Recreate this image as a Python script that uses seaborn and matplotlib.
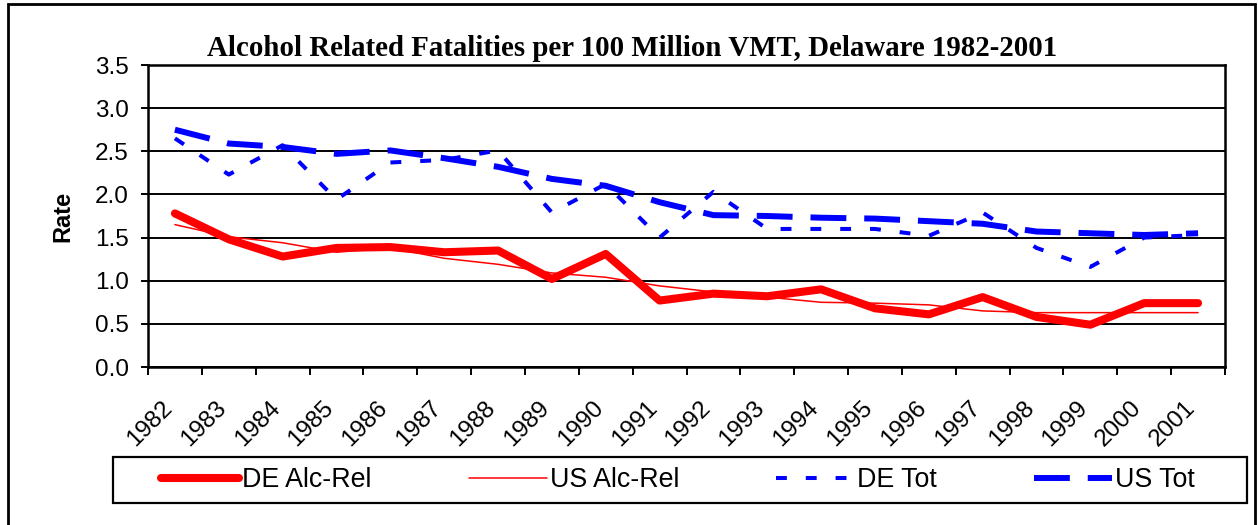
import matplotlib
matplotlib.use("Agg")
import numpy as np
import seaborn as sns
import matplotlib.pyplot as plt
import matplotlib.transforms as mtransforms
from matplotlib.patches import Rectangle
from matplotlib.ticker import FormatStrFormatter

# ── Data ──────────────────────────────────────────────────────────────────────
years  = list(range(1982, 2002))
de_alc = [1.78, 1.48, 1.28, 1.38, 1.39, 1.33, 1.35, 1.02, 1.31, 0.77,
          0.85, 0.82, 0.90, 0.68, 0.61, 0.81, 0.58, 0.49, 0.74, 0.74]
us_alc = [1.65, 1.51, 1.44, 1.33, 1.38, 1.26, 1.19, 1.09, 1.04, 0.94,
          0.87, 0.81, 0.75, 0.74, 0.72, 0.65, 0.63, 0.63, 0.63, 0.63]
de_tot = [2.65, 2.23, 2.57, 1.94, 2.37, 2.40, 2.51, 1.79, 2.12, 1.50,
          2.03, 1.60, 1.60, 1.60, 1.52, 1.79, 1.38, 1.16, 1.50, 1.53]
us_tot = [2.75, 2.59, 2.55, 2.47, 2.51, 2.42, 2.32, 2.18, 2.10, 1.91,
          1.76, 1.75, 1.73, 1.72, 1.69, 1.66, 1.57, 1.55, 1.53, 1.55]
series_names = ["DE Alc-Rel", "US Alc-Rel", "DE Tot", "US Tot"]
title = "Alcohol Related Fatalities per 100 Million VMT, Delaware 1982-2001"

# ── Style ─────────────────────────────────────────────────────────────────────
sns.set_style("white")
plt.rcParams["font.family"] = ["Liberation Sans", "DejaVu Sans"]
for k in ["text.color", "axes.labelcolor", "xtick.color", "ytick.color"]:
    plt.rcParams[k] = "black"

W, H = 1258, 525
fig = plt.figure(figsize=(W / 100, H / 100), dpi=100)
ax = fig.add_axes([148 / W, 1 - 367 / H, (1225 - 148) / W, (367 - 65) / H])

styles = [
    dict(color="#ff0000", linewidth=5.8, solid_capstyle="round", solid_joinstyle="round"),
    dict(color="#ff0000", linewidth=1.1),
    dict(color="#0000ff", linewidth=2.9, linestyle=(0, (2.7, 4.7))),
    dict(color="#0000ff", linewidth=4.3, linestyle=(0, (6.0, 3.0))),
]
for name, vals, kw in zip(series_names, [de_alc, us_alc, de_tot, us_tot], styles):
    sns.lineplot(x=years, y=vals, label=name, ax=ax, **kw)
if ax.get_legend() is not None:
    ax.get_legend().remove()

# ── Axes ──────────────────────────────────────────────────────────────────────
ax.set_xlim(1981.5, 2001.5)
ax.set_ylim(0, 3.5)
ax.set_xlabel(""); ax.set_ylabel("")
ax.set_yticks(np.arange(0, 3.51, 0.5))
ax.yaxis.set_major_formatter(FormatStrFormatter("%.1f"))
ax.set_xticks(years)
ax.set_xticklabels([str(y) for y in years], rotation=45, ha="right",
                   va="center", rotation_mode="anchor")
ax.set_xticks(np.arange(1981.5, 2002, 1), minor=True)
ax.tick_params(axis="x", which="major", bottom=True, length=0, pad=27, labelsize=17.5)
ax.tick_params(axis="x", which="minor", bottom=True, length=6, width=1.4, direction="out")
ax.tick_params(axis="y", left=True, length=5, width=1.4, direction="out", pad=9, labelsize=17.5)
ax.grid(axis="y", color="black", linewidth=1.4)
ax.grid(axis="x", visible=False)
for s in ax.spines.values():
    s.set_visible(True); s.set_color("black"); s.set_linewidth(1.8)

offset = mtransforms.ScaledTranslation(-6 / 100, 0, fig.dpi_scale_trans)
for lab in ax.get_xticklabels():
    lab.set_transform(lab.get_transform() + offset)

# ── Title, y label, legend, chart border ─────────────────────────────────────
fig.text(632 / W, 1 - 56 / H, title, ha="center", va="baseline",
         family=["Liberation Serif", "DejaVu Serif"], weight="bold", fontsize=20.8)
fig.text(63 / W, 1 - 216 / H, "Rate", rotation=90, ha="center", va="center",
         weight="bold", fontsize=17)

handles, labels = ax.get_legend_handles_labels()
fig.legend(handles, labels, loc="center", bbox_to_anchor=(678 / W, 1 - 480 / H),
           ncol=4, frameon=False, fontsize=19.3, handlelength=2.9,
           handletextpad=0.12, columnspacing=3.62, borderaxespad=0)
fig.add_artist(Rectangle((113 / W, 1 - 503 / H), (1247 - 113) / W, 46 / H,
                         transform=fig.transFigure, fill=False,
                         edgecolor="black", linewidth=1.6))
fig.add_artist(Rectangle((8 / W, -0.02), (1255 - 8) / W, 1.02 - 4 / H,
                         transform=fig.transFigure, fill=False,
                         edgecolor="black", linewidth=2))

fig.savefig("out.png", dpi=100)
